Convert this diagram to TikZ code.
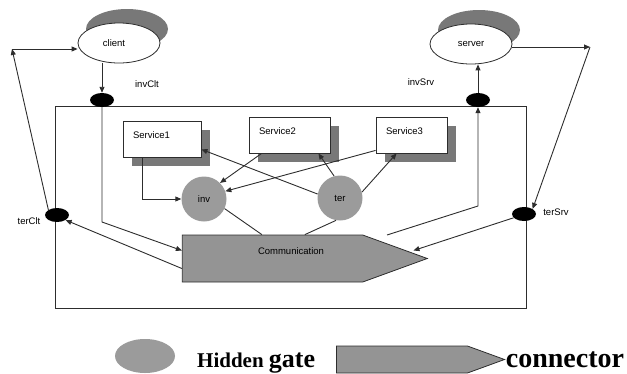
\documentclass[tikz,border=0pt]{standalone}
\usepackage{fontspec}
\setmainfont{Liberation Serif}
\setsansfont{Liberation Sans}
\usetikzlibrary{shapes.geometric,shapes.symbols,shadows,arrows.meta}

\definecolor{gategray}{RGB}{155,155,155}
\definecolor{conngray}{RGB}{148,148,148}
\definecolor{shadowgray}{RGB}{120,120,120}
\definecolor{wire}{RGB}{45,45,45}

\tikzset{
  wireline/.style={draw=wire, line width=0.9pt},
  arr/.style={wireline, -{Triangle[length=6pt,width=5pt]}},
  small/.style={font=\sffamily\fontsize{9.5}{11}\selectfont},
  comp/.style={ellipse, draw=wire, fill=white, line width=0.8pt, small,
    minimum width=82pt, minimum height=40pt, inner sep=0pt,
    general shadow={fill=shadowgray, shadow xshift=8pt, shadow yshift=14pt}},
  gate/.style={ellipse, fill=black, minimum width=24pt, minimum height=14pt, inner sep=0pt},
  service/.style={rectangle, draw=wire, fill=white, line width=0.8pt, small,
    minimum height=36pt, inner xsep=10pt, inner ysep=0pt, align=left,
    text height=7pt, text depth=8pt,
    general shadow={fill=shadowgray, shadow xshift=9pt, shadow yshift=-9pt}},
  hidden/.style={circle, fill=gategray, minimum size=45pt, inner sep=0pt, small},
  connector/.style={signal, signal to=east, signal from=nowhere, signal pointer angle=40,
    fill=conngray, draw=wire, line width=0.8pt, inner sep=0pt, small}
}

\begin{document}
\begin{tikzpicture}[x=1pt,y=-1pt]

\useasboundingbox (0,0) rectangle (627,373);

\node[draw=wire, line width=0.9pt, minimum width=471pt, minimum height=202pt] (frame) at (290.5,207) {};

% components
\node[comp] (client) at (119,43) {client\hspace*{10pt}};
\node[comp] (server) at (471,44) {server};

% gates on the frame
\node[gate] (gIC) at (102,100) {};
\node[gate] (gIS) at (478,100) {};
\node[gate] (gTC) at (57,215) {};
\node[gate] (gTS) at (524,214) {};
\node[small] (lIC) at (147,84) {invClt};
\node[small] (lIS) at (421,82) {invSrv};
\node[small] (lTC) at (29,221) {terClt};
\node[small] (lTS) at (556,212) {terSrv};

% services
\node[service, minimum width=78pt, text width=58pt] (s1) at (162,139) {Service1};
\node[service, minimum width=81pt, text width=61pt] (s2) at (289.5,135) {Service2};
\node[service, minimum width=71pt, text width=51pt] (s3) at (411.5,135) {Service3};

% hidden gates
\node[hidden] (inv) at (204,199) {inv};
\node[hidden] (ter) at (340,198) {ter};

\node[connector, minimum width=245pt, minimum height=47pt, text height=7pt, text depth=16pt]
  (comm) at (272.5,258.5) {\hspace*{37pt}Communication};

% client side
\coordinate (bIC) at (102,222);
\coordinate (cTC) at (12,49);
\draw[arr] (gIC.north |- client.south) -- (gIC.north);
\draw[arr] (gIC.south) -- (bIC) -- ([yshift=8pt]comm.west);
\draw[arr] ([yshift=-10pt]comm.west) -- (gTC.south east);
\draw[arr] (gTC.north west) -- (cTC);
\draw[arr] (cTC) -- (cTC -| client.west);

% server side
\coordinate (cSI) at (387,235);
\coordinate (bIS) at (478,206);
\coordinate (cTS) at (590,47);
\draw[arr] (cSI) -- (bIS) -- (gIS.south);
\draw[arr] (gIS.north) -- (gIS.north |- server.south);
\draw[arr] (cTS -| server.east) -- (cTS);
\draw[arr] (cTS) -- (gTS.north east);
\draw[arr] (gTS.200) -- ([xshift=-15pt,yshift=8pt]comm.east);

% inside
\draw[arr] ([xshift=20pt]s1.south west) |- (inv.west);
\draw[arr] ([xshift=13pt]s2.south west) -- (inv.north east);
\draw[arr] ([yshift=3pt]s3.south west) -- (inv.20);
\draw[arr] (ter.170) -- ([yshift=8pt]s1.south east);
\draw[arr] (ter.105) -- ([xshift=-12pt]s2.south east);
\draw[arr] (ter.15) -- ([xshift=21pt]s3.south west);
\draw[wireline] (inv.-25) -- ([xshift=80pt]comm.north west);
\draw[wireline] (ter.-100) -- ([xshift=123pt]comm.north west);

% legend
\node[ellipse, fill=gategray, minimum width=60pt, minimum height=34pt] (lgate) at (145,356) {};
\node[anchor=base west, inner sep=0pt, font=\bfseries] (lgtext) at (197,367)
  {\fontsize{21}{24}\selectfont Hidden \fontsize{26}{30}\selectfont gate};
\node[connector, minimum width=168pt, minimum height=27pt] (lconn) at (402,359.5) {};
\node[anchor=base west, inner sep=0pt, font=\bfseries\fontsize{28}{32}\selectfont] (lctext) at (lconn.east |- 0,367) {connector};

\end{tikzpicture}
\end{document}
